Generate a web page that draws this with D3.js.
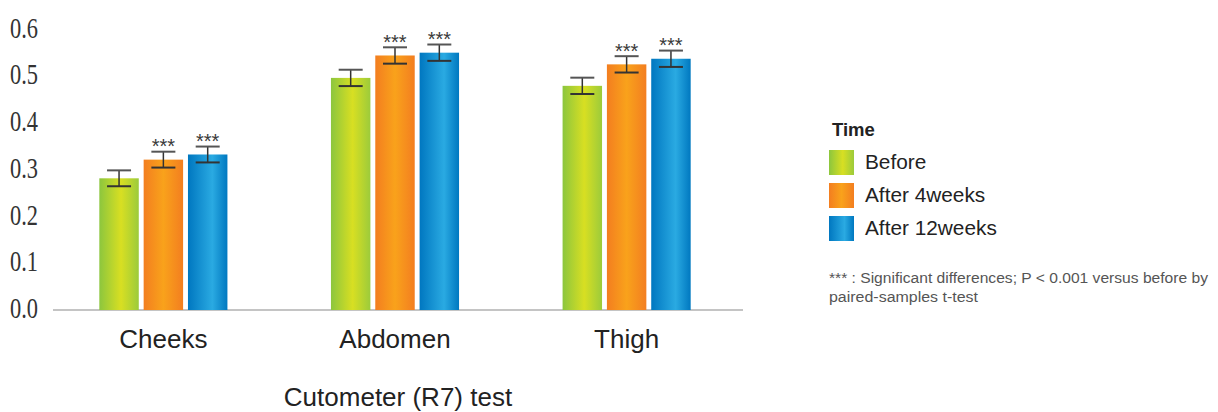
<!DOCTYPE html>
<html>
<head>
<meta charset="utf-8">
<script src="https://cdn.jsdelivr.net/npm/d3@7"></script>
<style>
  html, body { margin: 0; padding: 0; background: #fff; }
  svg { display: block; }
</style>
</head>
<body>
<svg id="chart" width="1218" height="412"></svg>
<script>
// ---- data ----
const categories = ["Cheeks", "Abdomen", "Thigh"];
const seriesNames = ["Before", "After 4weeks", "After 12weeks"];
const before   = [0.282, 0.497, 0.480];
const after4   = [0.322, 0.545, 0.526];
const after12  = [0.333, 0.551, 0.538];
const errBefore  = [0.017, 0.0175, 0.0175];
const errAfter4  = [0.017, 0.0175, 0.0175];
const errAfter12 = [0.017, 0.0175, 0.0175];
const significant = [false, true, true];
const yTicks = [0, 0.1, 0.2, 0.3, 0.4, 0.5, 0.6];
const legendTitle = "Time";
const xTitle = "Cutometer (R7) test";
const noteLines = ["*** : Significant differences; P < 0.001 versus before by", "paired-samples t-test"];

const seriesValues = [before, after4, after12];
const seriesErrs = [errBefore, errAfter4, errAfter12];

const rows = [];
categories.forEach((c, ci) => {
  seriesNames.forEach((s, si) => {
    rows.push({cat: c, series: s, si, value: seriesValues[si][ci], err: seriesErrs[si][ci], sig: significant[si]});
  });
});

const svg = d3.select("#chart");

// gradients
const grads = [
  {id: "g0", stops: [[0, "#8cc63e"], [0.55, "#d8df22"], [1, "#9ccb3b"]]},
  {id: "g1", stops: [[0, "#f37e20"], [0.5, "#f9a21b"], [1, "#f37e20"]]},
  {id: "g2", stops: [[0, "#0077c0"], [0.62, "#2aaae2"], [1, "#0078c0"]]}
];
const defs = svg.append("defs");
grads.forEach(g => {
  const lg = defs.append("linearGradient").attr("id", g.id)
    .attr("x1", "0%").attr("x2", "100%").attr("y1", "0%").attr("y2", "0%");
  g.stops.forEach(st => lg.append("stop").attr("offset", st[0]).attr("stop-color", st[1]));
});

// scales
const y = d3.scaleLinear().domain([0, 0.6]).range([310, 29.8]);
const x0 = d3.scaleBand().domain(categories).range([53, 737]).paddingInner(0.447).paddingOuter(0.2);
const x1 = d3.scaleBand().domain(seriesNames).range([0, x0.bandwidth()]).paddingInner(0.11).paddingOuter(0);

// baseline
svg.append("line")
  .attr("x1", 53).attr("x2", 743)
  .attr("y1", y(0)).attr("y2", y(0))
  .attr("stroke", "#c4c4c4").attr("stroke-width", 2);

// y axis labels
const yAxis = svg.append("g").attr("transform", "translate(38,0)")
  .call(d3.axisLeft(y).tickValues(yTicks).tickFormat(d3.format(".1f")).tickSize(0).tickPadding(0));
yAxis.select(".domain").remove();
yAxis.selectAll("text")
  .attr("dy", "0.26em")
  .attr("font-family", "Liberation Serif, Times New Roman, serif")
  .attr("font-size", 28.5)
  .attr("fill", "#333")
  .attr("textLength", 28)
  .attr("lengthAdjust", "spacingAndGlyphs");

// x axis labels
const xAxis = svg.append("g").attr("transform", `translate(0,${y(0)})`)
  .call(d3.axisBottom(x0).tickSize(0).tickPadding(20));
xAxis.select(".domain").remove();
xAxis.selectAll("text")
  .attr("font-family", "Liberation Sans, Arial, sans-serif")
  .attr("font-size", 26)
  .attr("fill", "#222");

// bars
const barG = svg.append("g");
const bars = barG.selectAll("g.bar").data(rows).join("g").attr("class", "bar")
  .attr("transform", d => `translate(${x0(d.cat) + x1(d.series)},0)`);
bars.append("rect")
  .attr("x", 0).attr("width", x1.bandwidth())
  .attr("y", d => y(d.value)).attr("height", d => y(0) - y(d.value))
  .attr("fill", d => `url(#g${d.si})`);

// error bars
const cw = 12;
bars.append("line")
  .attr("x1", x1.bandwidth() / 2).attr("x2", x1.bandwidth() / 2)
  .attr("y1", d => y(d.value + d.err)).attr("y2", d => y(d.value - d.err))
  .attr("stroke", "#333").attr("stroke-width", 1.5);
bars.append("line")
  .attr("x1", x1.bandwidth() / 2 - cw).attr("x2", x1.bandwidth() / 2 + cw)
  .attr("y1", d => y(d.value + d.err)).attr("y2", d => y(d.value + d.err))
  .attr("stroke", "#555").attr("stroke-width", 2);
bars.append("line")
  .attr("x1", x1.bandwidth() / 2 - cw).attr("x2", x1.bandwidth() / 2 + cw)
  .attr("y1", d => y(d.value - d.err)).attr("y2", d => y(d.value - d.err))
  .attr("stroke", "#333").attr("stroke-width", 2);
bars.filter(d => d.sig).append("text")
  .attr("x", x1.bandwidth() / 2)
  .attr("y", d => y(d.value + d.err) + 1.5)
  .attr("text-anchor", "middle")
  .attr("font-family", "Liberation Sans, Arial, sans-serif")
  .attr("font-size", 20)
  .attr("fill", "#3a3a3a")
  .text("***");

// x title
svg.append("text")
  .attr("x", 398).attr("y", 406)
  .attr("text-anchor", "middle")
  .attr("font-family", "Liberation Sans, Arial, sans-serif")
  .attr("font-size", 26)
  .attr("fill", "#222")
  .text(xTitle);

// legend
const lg = svg.append("g");
lg.append("text")
  .attr("x", 832).attr("y", 136)
  .attr("font-family", "Liberation Sans, Arial, sans-serif")
  .attr("font-size", 18.5).attr("font-weight", "bold")
  .attr("fill", "#222")
  .text(legendTitle);
const items = lg.selectAll("g.item").data(seriesNames).join("g").attr("class", "item")
  .attr("transform", (d, i) => `translate(829,${150 + i * 33})`);
items.append("rect").attr("width", 25).attr("height", 25)
  .attr("fill", (d, i) => `url(#g${i})`);
items.append("text")
  .attr("x", 36).attr("y", 18.5)
  .attr("font-family", "Liberation Sans, Arial, sans-serif")
  .attr("font-size", 20.8)
  .attr("fill", "#222")
  .text(d => d);

// note
const noteWidths = [379, 149];
noteLines.forEach((t, i) => {
  svg.append("text")
    .attr("x", 829).attr("y", 282.5 + i * 19)
    .attr("font-family", "Liberation Sans, Arial, sans-serif")
    .attr("font-size", 15.5)
    .attr("fill", "#555")
    .attr("textLength", noteWidths[i])
    .attr("lengthAdjust", "spacingAndGlyphs")
    .text(t);
});
</script>
</body>
</html>
